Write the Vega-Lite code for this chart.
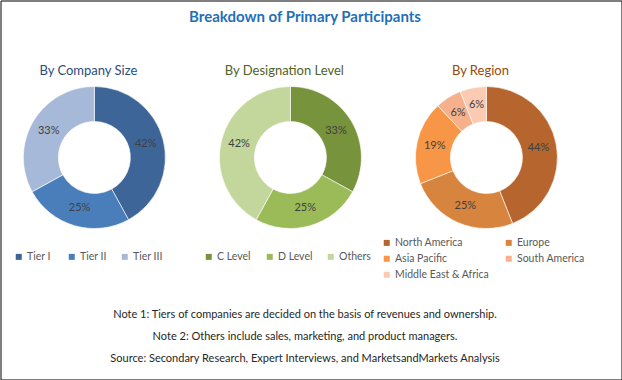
{
  "$schema": "https://vega.github.io/schema/vega-lite/v6.json",
  "width": 622,
  "height": 380,
  "autosize": {"type": "fit", "contains": "padding"},
  "padding": 0.5,
  "background": "#ffffff",
  "config": {
    "view": {"stroke": "#000000", "strokeWidth": 1},
    "font": "Lato",
    "legend": {
      "title": null,
      "orient": "none",
      "symbolType": "square",
      "symbolSize": 36,
      "symbolStrokeWidth": 0,
      "labelFont": "Lato",
      "labelFontSize": 10.5,
      "labelColor": "#595959",
      "labelOffset": 3,
      "padding": 0
    }
  },
  "title": {
    "text": "Breakdown of Primary Participants",
    "anchor": "middle",
    "offset": -31,
    "baseline": "middle",
    "dx": -6,
    "font": "Lato",
    "fontSize": 15,
    "fontWeight": "bold",
    "color": "#1F6FB8"
  },
  "datasets": {
    "parts": [
      {"group": "size", "segment": "Tier I", "value": 0.42, "rank": 1},
      {"group": "size", "segment": "Tier II", "value": 0.25, "rank": 2},
      {"group": "size", "segment": "Tier III", "value": 0.33, "rank": 3},
      {"group": "designation", "segment": "C Level", "value": 0.33, "rank": 1},
      {"group": "designation", "segment": "D Level", "value": 0.25, "rank": 2},
      {"group": "designation", "segment": "Others", "value": 0.42, "rank": 3},
      {"group": "region", "segment": "North America", "value": 0.44, "rank": 1},
      {"group": "region", "segment": "Europe", "value": 0.25, "rank": 2},
      {"group": "region", "segment": "Asia Pacific", "value": 0.19, "rank": 3},
      {"group": "region", "segment": "South America", "value": 0.06, "rank": 4},
      {"group": "region", "segment": "Middle East & Africa", "value": 0.06, "rank": 5}
    ],
    "panels": [
      {"group": "size", "title": "By Company Size"},
      {"group": "designation", "title": "By Designation Level"},
      {"group": "region", "title": "By Region"}
    ],
    "notes": [
      {"note": "Note 1: Tiers of companies are decided on the basis of revenues and ownership."},
      {"note": "Note 2: Others include sales, marketing, and product managers."},
      {"note": "Source: Secondary Research, Expert Interviews, and MarketsandMarkets Analysis"}
    ]
  },
  "resolve": {"scale": {"y": "independent"}},
  "layer": [
    {
      "resolve": {
        "scale": {"color": "independent", "theta": "independent"},
        "legend": {"color": "independent"}
      },
      "encoding": {
        "x": {
          "field": "group",
          "type": "nominal",
          "scale": {"type": "point", "domain": ["size", "designation", "region"], "padding": 0.584, "align": 0.41},
          "axis": null
        },
        "y": {
          "datum": "chart",
          "type": "nominal",
          "scale": {"type": "point", "domain": ["title", "chart"], "range": [70, 157], "padding": 0},
          "axis": null
        }
      },
      "layer": [
        {
          "data": {"name": "panels"},
          "mark": {"type": "text", "font": "Lato", "fontSize": 13, "dx": -6, "baseline": "middle"},
          "encoding": {
            "y": {"datum": "title", "type": "nominal"},
            "text": {"field": "title"},
            "color": {
              "field": "title",
              "type": "nominal",
              "scale": {"domain": ["By Company Size", "By Designation Level", "By Region"], "range": ["#2A4D80", "#4F6228", "#984807"]},
              "legend": null
            }
          }
        },
        {
          "data": {"name": "parts"},
          "transform": [{"filter": "datum.group == 'size'"}],
          "layer": [
            {
              "mark": {"type": "arc", "innerRadius": 36, "outerRadius": 71, "stroke": "#ffffff", "strokeWidth": 0.6},
              "encoding": {
                "theta": {"field": "value", "type": "quantitative", "stack": true},
                "order": {"field": "rank", "type": "quantitative"},
                "color": {
                  "field": "segment",
                  "type": "nominal",
                  "scale": {"domain": ["Tier I", "Tier II", "Tier III"], "range": ["#3D6598", "#4A7EBB", "#A7B9D9"]},
                  "legend": {"legendX": 13, "legendY": 251, "direction": "horizontal", "columns": 3, "gridAlign": "all", "columnPadding": 9}
                }
              }
            },
            {
              "mark": {"type": "text", "radius": 53, "font": "Lato", "fontSize": 11, "color": "#404040"},
              "encoding": {
                "theta": {"field": "value", "type": "quantitative", "stack": true},
                "order": {"field": "rank", "type": "quantitative"},
                "detail": {"field": "segment"},
                "text": {"field": "value", "type": "quantitative", "format": ".0%"}
              }
            }
          ]
        },
        {
          "data": {"name": "parts"},
          "transform": [{"filter": "datum.group == 'designation'"}],
          "layer": [
            {
              "mark": {"type": "arc", "innerRadius": 36, "outerRadius": 71, "stroke": "#ffffff", "strokeWidth": 0.6},
              "encoding": {
                "theta": {"field": "value", "type": "quantitative", "stack": true},
                "order": {"field": "rank", "type": "quantitative"},
                "color": {
                  "field": "segment",
                  "type": "nominal",
                  "scale": {"domain": ["C Level", "D Level", "Others"], "range": ["#77933C", "#9BBB59", "#C3D69B"]},
                  "legend": {"legendX": 203, "legendY": 251, "direction": "horizontal", "columns": 3, "gridAlign": "all", "columnPadding": 13}
                }
              }
            },
            {
              "mark": {"type": "text", "radius": 53, "font": "Lato", "fontSize": 11, "color": "#404040"},
              "encoding": {
                "theta": {"field": "value", "type": "quantitative", "stack": true},
                "order": {"field": "rank", "type": "quantitative"},
                "detail": {"field": "segment"},
                "text": {"field": "value", "type": "quantitative", "format": ".0%"}
              }
            }
          ]
        },
        {
          "data": {"name": "parts"},
          "transform": [{"filter": "datum.group == 'region'"}],
          "layer": [
            {
              "mark": {"type": "arc", "innerRadius": 36, "outerRadius": 71, "stroke": "#ffffff", "strokeWidth": 0.6},
              "encoding": {
                "theta": {"field": "value", "type": "quantitative", "stack": true},
                "order": {"field": "rank", "type": "quantitative"},
                "color": {
                  "field": "segment",
                  "type": "nominal",
                  "scale": {"domain": ["North America", "Europe", "Asia Pacific", "South America", "Middle East & Africa"], "range": ["#B6652E", "#D7843F", "#F79646", "#F6B18C", "#FACBB2"]},
                  "legend": {"legendX": 381, "legendY": 237, "direction": "horizontal", "columns": 2, "rowPadding": 5, "columnPadding": 14}
                }
              }
            },
            {
              "mark": {"type": "text", "radius": 53, "font": "Lato", "fontSize": 11, "color": "#404040"},
              "encoding": {
                "theta": {"field": "value", "type": "quantitative", "stack": true},
                "order": {"field": "rank", "type": "quantitative"},
                "detail": {"field": "segment"},
                "text": {"field": "value", "type": "quantitative", "format": ".0%"}
              }
            }
          ]
        }
      ]
    },
    {
      "data": {"name": "notes"},
      "mark": {"type": "text", "font": "Lato", "fontSize": 11, "color": "#262626", "dx": -6, "baseline": "middle"},
      "encoding": {
        "y": {"field": "note", "type": "nominal", "sort": null, "scale": {"type": "point", "range": [314, 358], "padding": 0}, "axis": null},
        "text": {"field": "note"}
      }
    }
  ]
}
